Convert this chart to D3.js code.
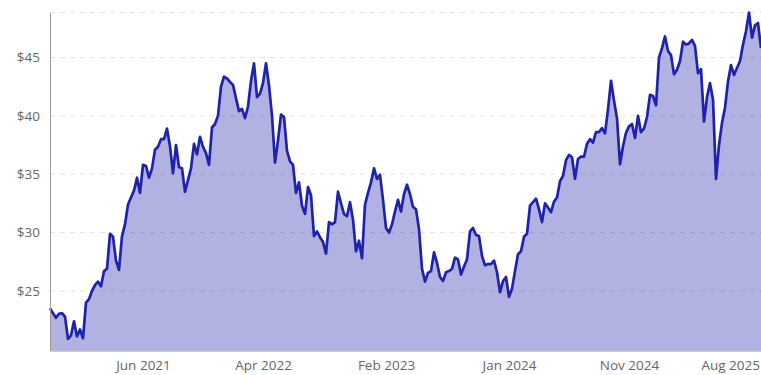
<!DOCTYPE html>
<html>
<head>
<meta charset="utf-8">
<script src="https://cdn.jsdelivr.net/npm/d3@7/dist/d3.min.js"></script>
<style>
  body { margin: 0; background: #fff; }
  text { font-family: "Open Sans", sans-serif; }
</style>
</head>
<body>
<div id="chart"></div>
<script>
// closing prices, one sample every few trading days
var prices = [
  23.5, 23.1, 22.7, 23.05, 23.1, 22.8, 20.9, 21.2, 22.4, 21.1, 21.7, 20.95, 24.0, 24.3, 25.0, 25.5, 25.8, 25.4, 26.7, 26.9, 29.9, 29.65, 27.6, 26.8, 29.7, 30.7, 32.4, 33.0, 33.6, 34.7,
  33.4, 35.8, 35.7, 34.7, 35.5, 37.1, 37.35, 38.0, 38.0, 38.9, 37.4, 35.1, 37.5, 35.6, 35.5, 33.5, 34.5, 35.5, 37.6, 36.7, 38.2, 37.35, 36.8, 35.8, 39.0, 39.3, 40.0, 42.5, 43.35, 43.2,
  42.9, 42.65, 41.5, 40.4, 40.6, 39.8, 40.8, 43.0, 44.5, 41.6, 41.9, 42.8, 44.5, 42.6, 40.0, 36.0, 37.9, 40.1, 39.9, 37.0, 36.1, 35.8, 33.4, 34.3, 32.3, 31.6, 33.9, 33.2, 29.7, 30.1,
  29.6, 29.2, 28.2, 30.9, 30.7, 30.9, 33.5, 32.5, 31.6, 31.4, 32.6, 31.1, 28.4, 29.3, 27.8, 32.4, 33.4, 34.3, 35.5, 34.6, 34.95, 32.8, 30.4, 30.0, 30.7, 31.8, 32.8, 31.8, 33.3, 34.1,
  33.3, 32.2, 32.0, 30.3, 26.9, 25.8, 26.55, 26.7, 28.3, 27.4, 26.2, 25.85, 26.6, 26.7, 26.9, 27.85, 27.7, 26.4, 27.1, 27.7, 30.1, 30.4, 29.8, 29.7, 28.0, 27.2, 27.3, 27.3, 27.6, 26.6,
  24.9, 25.85, 26.2, 24.5, 25.2, 26.7, 28.15, 28.4, 29.65, 29.9, 32.3, 32.6, 32.9, 32.0, 30.9, 32.5, 32.15, 31.75, 32.65, 33.0, 34.4, 34.85, 36.2, 36.65, 36.45, 34.6, 36.3, 36.5, 36.5, 37.6,
  38.0, 37.7, 38.6, 38.6, 38.95, 38.5, 40.55, 43.0, 41.3, 39.8, 35.85, 37.4, 38.55, 39.1, 39.3, 38.1, 40.0, 38.6, 38.9, 39.9, 41.8, 41.7, 40.9, 45.0, 45.8, 46.8, 45.55, 45.2, 43.55, 43.95,
  44.7, 46.35, 46.1, 46.2, 46.5, 46.0, 43.65, 44.0, 39.5, 41.6, 42.8, 41.4, 34.6, 37.5, 39.4, 40.7, 42.95, 44.35, 43.5, 44.1, 44.7, 46.1, 47.25, 48.85, 46.7, 47.75, 47.95, 45.8
];

// which sample each date label sits on
var tickIdx = [31, 71, 112, 153, 193, 233];
var tickLabels = ["Jun 2021", "Apr 2022", "Feb 2023", "Jan 2024", "Nov 2024", "Aug 2025"];
var yTicks = [25, 30, 35, 40, 45];

var width = 761;
var height = 375;
var margin = { top: 12.5, right: 0, bottom: 24.5, left: 50 };
var lineColor = "#1f22aa";

var svg = d3
  .select("#chart")
  .append("svg")
  .attr("width", width)
  .attr("height", height);

var x = d3
  .scaleLinear()
  .domain([0, prices.length - 1])
  .range([margin.left, width - margin.right]);

var y = d3
  .scaleLinear()
  .domain([19.9, d3.max(prices)])
  .range([height - margin.bottom, margin.top]);

// dashed grid, plus one along the top edge
svg
  .append("g")
  .selectAll("line")
  .data(yTicks.concat([y.domain()[1]]))
  .enter()
  .append("line")
  .attr("x1", margin.left)
  .attr("x2", width - margin.right)
  .attr("y1", (d) => y(d))
  .attr("y2", (d) => y(d))
  .attr("stroke", "#e3e3e3")
  .attr("stroke-dasharray", "5,5");

var area = d3
  .area()
  .x((d, i) => x(i))
  .y0(y(y.domain()[0]))
  .y1((d) => y(d));

var line = d3
  .line()
  .x((d, i) => x(i))
  .y((d) => y(d));

svg
  .append("path")
  .datum(prices)
  .attr("d", area)
  .style("fill", lineColor)
  .style("fill-opacity", 0.35);

svg
  .append("path")
  .datum(prices)
  .attr("d", line)
  .style("fill", "none")
  .style("stroke", lineColor)
  .style("stroke-width", 2.7)
  .style("stroke-linejoin", "round");

var yAxis = svg
  .append("g")
  .attr("transform", "translate(" + margin.left + ",0)")
  .call(
    d3
      .axisLeft(y)
      .tickValues(yTicks)
      .tickFormat((d) => "$" + d)
      .tickSize(0)
      .tickPadding(10),
  );

var xAxis = svg
  .append("g")
  .attr("transform", "translate(0," + (height - margin.bottom) + ")")
  .call(
    d3
      .axisBottom(x)
      .tickValues(tickIdx)
      .tickFormat((d, i) => tickLabels[i])
      .tickSize(0)
      .tickPadding(10),
  );

svg.selectAll(".domain").attr("stroke", "#9a9a9a");
svg
  .selectAll(".tick text")
  .attr("fill", "#666")
  .style("font-size", "13.5px");

// keep the last date label inside the frame
xAxis.selectAll(".tick text").each(function () {
  var box = this.getBBox();
  var tick = this.parentNode.transform.baseVal.consolidate().matrix.e;
  var over = tick + box.x + box.width - (width - 1);
  if (over > 0) d3.select(this).attr("x", -over);
});
</script>
</body>
</html>
